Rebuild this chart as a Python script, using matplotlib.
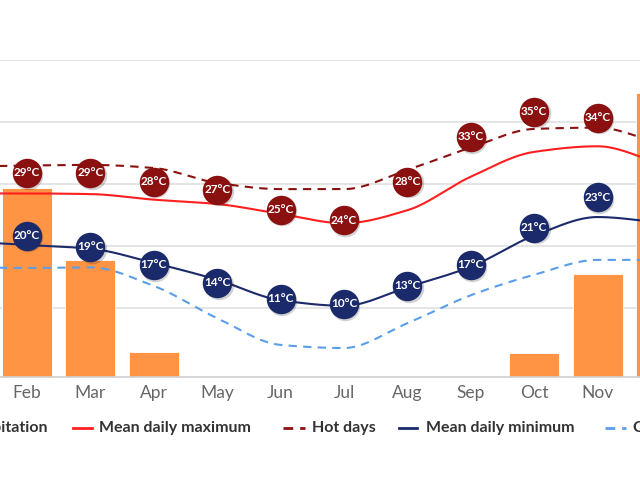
import matplotlib
matplotlib.use('Agg')
import matplotlib.pyplot as plt
import matplotlib.transforms as mtransforms
from matplotlib.lines import Line2D
import numpy as np

plt.rcParams['font.family'] = ['Lato', 'DejaVu Sans']

# 数据 (月份, 降水, 温度)
months = ['Jan', 'Feb', 'Mar', 'Apr', 'May', 'Jun', 'Jul', 'Aug', 'Sep', 'Oct', 'Nov', 'Dec']
precipitation = [150, 119, 74, 16, 0, 0, 0, 0, 0, 15, 65, 179]
mean_max = [28.5, 28.5, 28.4, 27.5, 26.8, 25.2, 23.7, 25.8, 31.2, 35.2, 36.1, 33.3]
hot_days = [32.8, 33.0, 33.1, 32.6, 30.2, 29.2, 29.2, 32.3, 35.9, 38.9, 39.1, 36.5]
mean_min = [20.8, 20.2, 19.6, 17.3, 14.6, 11.3, 10.4, 13.4, 16.7, 21.7, 24.7, 23.8]
cold_nights = [16.6, 16.5, 16.6, 13.6, 8.4, 4.1, 3.6, 7.6, 12.1, 15.4, 17.8, 17.8]

# 数据标签 (圆点), 一月和十二月在画面之外
label_months = months[1:11]
max_labels = [29, 29, 28, 27, 25, 24, 28, 33, 35, 34]
max_label_pos = [31.8, 31.8, 30.4, 29.1, 25.9, 24.2, 30.4, 37.6, 41.7, 40.7]
min_labels = [20, 19, 17, 14, 11, 10, 13, 17, 21, 23]
min_label_pos = [21.7, 19.9, 17.0, 14.1, 11.5, 10.7, 13.6, 17.0, 23.0, 27.9]

legend_names = ['Precipitation', 'Mean daily maximum', 'Hot days', 'Mean daily minimum', 'Cold nights']

C_BAR = '#ff9445'
C_MAX = '#ff1f1f'
C_HOT = '#8b1111'
C_MIN = '#1b2a6b'
C_COLD = '#5a9ee8'


def pchip(y, xs):
    """单调三次插值 (类似 Highcharts spline)"""
    y = np.asarray(y, float)
    x = np.arange(len(y))
    h = np.diff(x)
    d = np.diff(y) / h
    m = np.zeros_like(y)
    for k in range(1, len(y) - 1):
        if d[k - 1] * d[k] > 0:
            m[k] = 2.0 / (1.0 / d[k - 1] + 1.0 / d[k])
    m[0] = d[0]
    m[-1] = d[-1]
    idx = np.clip(np.floor(xs).astype(int), 0, len(y) - 2)
    t = xs - idx
    h00 = 2 * t**3 - 3 * t**2 + 1
    h10 = t**3 - 2 * t**2 + t
    h01 = -2 * t**3 + 3 * t**2
    h11 = t**3 - t**2
    return h00 * y[idx] + h10 * m[idx] + h01 * y[idx + 1] + h11 * m[idx + 1]


fig = plt.figure(figsize=(6.4, 4.8), dpi=100)
ax = fig.add_axes([0, (480 - 377) / 480, 1, (377 - 60) / 480])
ax2 = ax.twinx()

x = np.arange(len(months))
xl = np.array([months.index(m) for m in label_months])
xlim = (1 - 27 / 63.4, 1 + 613 / 63.4)
t_lim = (-1.07, 50)
p_lim = (0, 200)

# 柱状图: 降水
ax.bar(x, precipitation, width=0.79, color=C_BAR, edgecolor='white', linewidth=0.6, zorder=2)
ax.set_xlim(*xlim)
ax.set_ylim(*p_lim)
# 网格线对应温度刻度
t_ticks = np.array([10, 20, 30, 40, 50])
ax.set_yticks((t_ticks - t_lim[0]) / (t_lim[1] - t_lim[0]) * p_lim[1])
ax.yaxis.grid(True, color='#e3e3e3', linewidth=1.3, zorder=0)
ax.set_axisbelow(True)
ax.tick_params(axis='y', left=False, labelleft=False)
ax.set_xticks(x)
ax.set_xticklabels(months, fontsize=12.5, color='#666666')
ax.tick_params(axis='x', length=0, pad=6)
for s in ['top', 'left', 'right']:
    ax.spines[s].set_visible(False)
ax.spines['bottom'].set_color('#d0d0d0')
ax.spines['bottom'].set_linewidth(1.2)

# 温度曲线
xs = np.linspace(0, 11, 600)
ax2.plot(xs, pchip(cold_nights, xs), color=C_COLD, lw=1.5, ls=(0, (4, 3)), zorder=3)
ax2.plot(xs, pchip(mean_min, xs), color=C_MIN, lw=1.5, zorder=3)
ax2.plot(xs, pchip(hot_days, xs), color=C_HOT, lw=1.5, ls=(0, (4, 3)), zorder=3)
ax2.plot(xs, pchip(mean_max, xs), color=C_MAX, lw=1.5, zorder=3)
ax2.set_xlim(*xlim)
ax2.set_ylim(*t_lim)
ax2.set_yticks([])
for s in ax2.spines.values():
    s.set_visible(False)

# 圆形数据标签
shadow = mtransforms.offset_copy(ax2.transData, fig=fig, x=1, y=-1.2, units='points')
for pos, labels, col in [(max_label_pos, max_labels, C_HOT), (min_label_pos, min_labels, C_MIN)]:
    ax2.scatter(xl, pos, s=450, color='black', alpha=0.18, transform=shadow, zorder=4, linewidths=0)
    ax2.scatter(xl, pos, s=450, color=col, zorder=5, linewidths=0)
    for xi, yi, v in zip(xl, pos, labels):
        ax2.text(xi, yi, f'{v}°C', ha='center', va='center', color='white',
                 fontsize=8.5, fontweight='bold', zorder=6)

# 图例 (手动绘制)
ly = 1 - 428 / 480
legend_items = [
    (None, None, None, 48),
    (C_MAX, '-', (73, 92), 99),
    (C_HOT, (0, (3.5, 2.5)), (283, 305), 312),
    (C_MIN, '-', (399, 417), 426),
    (C_COLD, (0, (3.5, 2.5)), (605, 626), 633),
]
for name, (col, ls, seg, tx) in zip(legend_names, legend_items):
    if col is None:
        fig.text(tx / 640, ly, name, ha='right', va='center', fontsize=11.5,
                 fontweight='bold', color='#333333')
        continue
    fig.add_artist(Line2D([seg[0] / 640, seg[1] / 640], [ly, ly], color=col, lw=2,
                          ls=ls, transform=fig.transFigure))
    fig.text(tx / 640, ly, name, ha='left', va='center', fontsize=11.5,
             fontweight='bold', color='#333333')

fig.savefig('out.png', dpi=100)
